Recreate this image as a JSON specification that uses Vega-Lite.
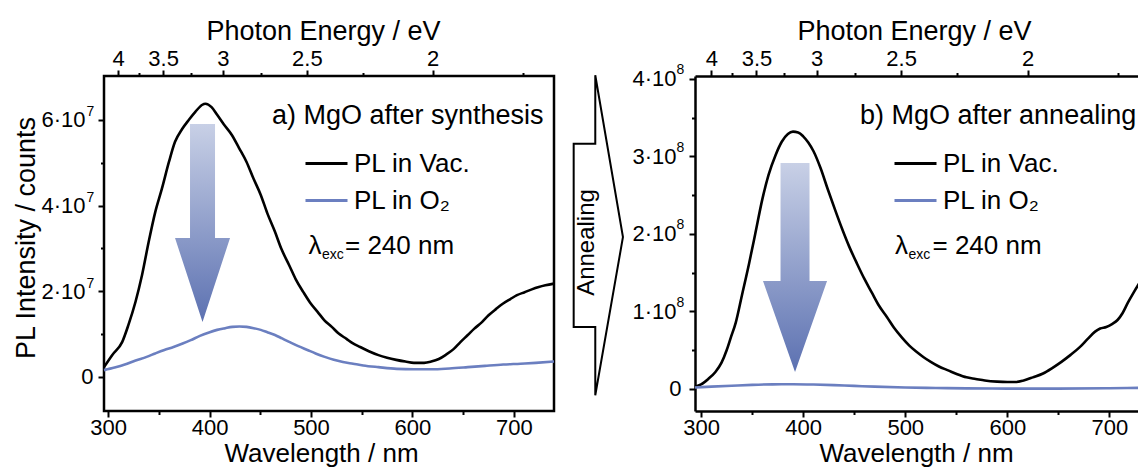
{
  "$schema": "https://vega.github.io/schema/vega-lite/v6.json",
  "padding": {"left": 10, "top": 15, "right": 0, "bottom": 0},
  "autosize": {"type": "pad"},
  "bounds": "flush",
  "spacing": 141,
  "config": {
    "font": "Liberation Sans",
    "view": {"stroke": null},
    "axis": {
      "grid": false, "labelFont": "Liberation Sans", "titleFont": "Liberation Sans",
      "labelColor": "black", "titleColor": "black", "tickColor": "black", "domainColor": "black",
      "labelFontSize": 22, "titleFontSize": 27, "titleFontWeight": "normal",
      "tickWidth": 2, "domainWidth": 2.5, "domain": false, "labelFlush": false, "labelOverlap": false
    },
    "text": {"font": "Liberation Sans", "color": "black"}
  },
  "resolve": {"scale": {"color": "independent"}},
  "datasets": {
    "spectra": [
      {"panel":"a","series":"PL in Vac.","wl":296,"I":2.3e6},{"panel":"a","series":"PL in Vac.","wl":304,"I":5.1e6},{"panel":"a","series":"PL in Vac.","wl":314,"I":8.2e6},{"panel":"a","series":"PL in Vac.","wl":320,"I":1.21e7},{"panel":"a","series":"PL in Vac.","wl":327,"I":1.75e7},{"panel":"a","series":"PL in Vac.","wl":333.5,"I":2.38e7},{"panel":"a","series":"PL in Vac.","wl":340,"I":3.15e7},{"panel":"a","series":"PL in Vac.","wl":346.5,"I":3.85e7},{"panel":"a","series":"PL in Vac.","wl":353,"I":4.39e7},{"panel":"a","series":"PL in Vac.","wl":360,"I":5.02e7},{"panel":"a","series":"PL in Vac.","wl":366,"I":5.49e7},{"panel":"a","series":"PL in Vac.","wl":373,"I":5.79e7},{"panel":"a","series":"PL in Vac.","wl":379.5,"I":6.0e7},{"panel":"a","series":"PL in Vac.","wl":386,"I":6.19e7},{"panel":"a","series":"PL in Vac.","wl":392.5,"I":6.35e7},{"panel":"a","series":"PL in Vac.","wl":396,"I":6.38e7},{"panel":"a","series":"PL in Vac.","wl":402,"I":6.3e7},{"panel":"a","series":"PL in Vac.","wl":407.5,"I":6.12e7},{"panel":"a","series":"PL in Vac.","wl":414,"I":5.9e7},{"panel":"a","series":"PL in Vac.","wl":422,"I":5.65e7},{"panel":"a","series":"PL in Vac.","wl":429,"I":5.35e7},{"panel":"a","series":"PL in Vac.","wl":436.5,"I":5.02e7},{"panel":"a","series":"PL in Vac.","wl":443,"I":4.65e7},{"panel":"a","series":"PL in Vac.","wl":450.5,"I":4.25e7},{"panel":"a","series":"PL in Vac.","wl":457,"I":3.82e7},{"panel":"a","series":"PL in Vac.","wl":464.5,"I":3.39e7},{"panel":"a","series":"PL in Vac.","wl":471,"I":2.98e7},{"panel":"a","series":"PL in Vac.","wl":478.5,"I":2.61e7},{"panel":"a","series":"PL in Vac.","wl":485,"I":2.28e7},{"panel":"a","series":"PL in Vac.","wl":492.5,"I":1.98e7},{"panel":"a","series":"PL in Vac.","wl":499,"I":1.74e7},{"panel":"a","series":"PL in Vac.","wl":506.5,"I":1.52e7},{"panel":"a","series":"PL in Vac.","wl":513,"I":1.33e7},{"panel":"a","series":"PL in Vac.","wl":520.5,"I":1.17e7},{"panel":"a","series":"PL in Vac.","wl":527,"I":1.02e7},{"panel":"a","series":"PL in Vac.","wl":535,"I":8.9e6},{"panel":"a","series":"PL in Vac.","wl":541,"I":7.9e6},{"panel":"a","series":"PL in Vac.","wl":548.5,"I":7.0e6},{"panel":"a","series":"PL in Vac.","wl":557,"I":6.0e6},{"panel":"a","series":"PL in Vac.","wl":566.5,"I":5.1e6},{"panel":"a","series":"PL in Vac.","wl":575,"I":4.5e6},{"panel":"a","series":"PL in Vac.","wl":584,"I":4.0e6},{"panel":"a","series":"PL in Vac.","wl":593,"I":3.6e6},{"panel":"a","series":"PL in Vac.","wl":601.5,"I":3.3e6},{"panel":"a","series":"PL in Vac.","wl":611.5,"I":3.3e6},{"panel":"a","series":"PL in Vac.","wl":618.5,"I":3.6e6},{"panel":"a","series":"PL in Vac.","wl":626,"I":4.2e6},{"panel":"a","series":"PL in Vac.","wl":633,"I":5.2e6},{"panel":"a","series":"PL in Vac.","wl":640.5,"I":6.5e6},{"panel":"a","series":"PL in Vac.","wl":647,"I":8.1e6},{"panel":"a","series":"PL in Vac.","wl":654.5,"I":9.8e6},{"panel":"a","series":"PL in Vac.","wl":661,"I":1.13e7},{"panel":"a","series":"PL in Vac.","wl":668.5,"I":1.28e7},{"panel":"a","series":"PL in Vac.","wl":675,"I":1.44e7},{"panel":"a","series":"PL in Vac.","wl":682.5,"I":1.59e7},{"panel":"a","series":"PL in Vac.","wl":689,"I":1.71e7},{"panel":"a","series":"PL in Vac.","wl":696.5,"I":1.82e7},{"panel":"a","series":"PL in Vac.","wl":703,"I":1.91e7},{"panel":"a","series":"PL in Vac.","wl":710.5,"I":1.98e7},{"panel":"a","series":"PL in Vac.","wl":717,"I":2.04e7},{"panel":"a","series":"PL in Vac.","wl":724.5,"I":2.10e7},{"panel":"a","series":"PL in Vac.","wl":731,"I":2.14e7},{"panel":"a","series":"PL in Vac.","wl":739.5,"I":2.18e7},
      {"panel":"a","series":"PL in O₂","wl":296,"I":1.6e6},{"panel":"a","series":"PL in O₂","wl":306.5,"I":2.2e6},{"panel":"a","series":"PL in O₂","wl":316.5,"I":2.9e6},{"panel":"a","series":"PL in O₂","wl":326.5,"I":3.8e6},{"panel":"a","series":"PL in O₂","wl":338,"I":4.7e6},{"panel":"a","series":"PL in O₂","wl":346.5,"I":5.5e6},{"panel":"a","series":"PL in O₂","wl":355.5,"I":6.3e6},{"panel":"a","series":"PL in O₂","wl":364.5,"I":7.0e6},{"panel":"a","series":"PL in O₂","wl":373.5,"I":7.8e6},{"panel":"a","series":"PL in O₂","wl":381.5,"I":8.6e6},{"panel":"a","series":"PL in O₂","wl":390.5,"I":9.6e6},{"panel":"a","series":"PL in O₂","wl":399.5,"I":1.04e7},{"panel":"a","series":"PL in O₂","wl":407.5,"I":1.10e7},{"panel":"a","series":"PL in O₂","wl":415.5,"I":1.14e7},{"panel":"a","series":"PL in O₂","wl":422.5,"I":1.17e7},{"panel":"a","series":"PL in O₂","wl":429.5,"I":1.18e7},{"panel":"a","series":"PL in O₂","wl":436.5,"I":1.17e7},{"panel":"a","series":"PL in O₂","wl":443.5,"I":1.14e7},{"panel":"a","series":"PL in O₂","wl":450.5,"I":1.10e7},{"panel":"a","series":"PL in O₂","wl":457.5,"I":1.04e7},{"panel":"a","series":"PL in O₂","wl":464.5,"I":9.8e6},{"panel":"a","series":"PL in O₂","wl":471.5,"I":9.0e6},{"panel":"a","series":"PL in O₂","wl":478.5,"I":8.2e6},{"panel":"a","series":"PL in O₂","wl":487.5,"I":7.2e6},{"panel":"a","series":"PL in O₂","wl":496.5,"I":6.3e6},{"panel":"a","series":"PL in O₂","wl":504.5,"I":5.5e6},{"panel":"a","series":"PL in O₂","wl":513.5,"I":4.7e6},{"panel":"a","series":"PL in O₂","wl":522.5,"I":4.0e6},{"panel":"a","series":"PL in O₂","wl":531.5,"I":3.5e6},{"panel":"a","series":"PL in O₂","wl":541.5,"I":3.1e6},{"panel":"a","series":"PL in O₂","wl":551.5,"I":2.7e6},{"panel":"a","series":"PL in O₂","wl":566.5,"I":2.3e6},{"panel":"a","series":"PL in O₂","wl":584.5,"I":1.9e6},{"panel":"a","series":"PL in O₂","wl":601.5,"I":1.8e6},{"panel":"a","series":"PL in O₂","wl":619.5,"I":1.8e6},{"panel":"a","series":"PL in O₂","wl":636.5,"I":2.0e6},{"panel":"a","series":"PL in O₂","wl":654.5,"I":2.3e6},{"panel":"a","series":"PL in O₂","wl":671.5,"I":2.6e6},{"panel":"a","series":"PL in O₂","wl":689.5,"I":2.9e6},{"panel":"a","series":"PL in O₂","wl":706.5,"I":3.1e6},{"panel":"a","series":"PL in O₂","wl":721.5,"I":3.3e6},{"panel":"a","series":"PL in O₂","wl":739.5,"I":3.6e6},
      {"panel":"b","series":"PL in Vac.","wl":294,"I":3e6},{"panel":"b","series":"PL in Vac.","wl":300,"I":6e6},{"panel":"b","series":"PL in Vac.","wl":307,"I":1.3e7},{"panel":"b","series":"PL in Vac.","wl":314,"I":2.2e7},{"panel":"b","series":"PL in Vac.","wl":320,"I":3.4e7},{"panel":"b","series":"PL in Vac.","wl":325,"I":5.0e7},{"panel":"b","series":"PL in Vac.","wl":329,"I":6.6e7},{"panel":"b","series":"PL in Vac.","wl":334,"I":8.6e7},{"panel":"b","series":"PL in Vac.","wl":340,"I":1.21e8},{"panel":"b","series":"PL in Vac.","wl":347,"I":1.62e8},{"panel":"b","series":"PL in Vac.","wl":353,"I":2.0e8},{"panel":"b","series":"PL in Vac.","wl":360,"I":2.45e8},{"panel":"b","series":"PL in Vac.","wl":366,"I":2.76e8},{"panel":"b","series":"PL in Vac.","wl":373,"I":3.02e8},{"panel":"b","series":"PL in Vac.","wl":379,"I":3.19e8},{"panel":"b","series":"PL in Vac.","wl":385,"I":3.29e8},{"panel":"b","series":"PL in Vac.","wl":390,"I":3.32e8},{"panel":"b","series":"PL in Vac.","wl":395,"I":3.31e8},{"panel":"b","series":"PL in Vac.","wl":400,"I":3.26e8},{"panel":"b","series":"PL in Vac.","wl":405,"I":3.18e8},{"panel":"b","series":"PL in Vac.","wl":410,"I":3.07e8},{"panel":"b","series":"PL in Vac.","wl":417,"I":2.85e8},{"panel":"b","series":"PL in Vac.","wl":424,"I":2.58e8},{"panel":"b","series":"PL in Vac.","wl":431,"I":2.32e8},{"panel":"b","series":"PL in Vac.","wl":438,"I":2.07e8},{"panel":"b","series":"PL in Vac.","wl":445,"I":1.84e8},{"panel":"b","series":"PL in Vac.","wl":453,"I":1.61e8},{"panel":"b","series":"PL in Vac.","wl":460,"I":1.42e8},{"panel":"b","series":"PL in Vac.","wl":467,"I":1.25e8},{"panel":"b","series":"PL in Vac.","wl":474,"I":1.08e8},{"panel":"b","series":"PL in Vac.","wl":482,"I":9.3e7},{"panel":"b","series":"PL in Vac.","wl":489,"I":7.9e7},{"panel":"b","series":"PL in Vac.","wl":497,"I":6.6e7},{"panel":"b","series":"PL in Vac.","wl":504,"I":5.6e7},{"panel":"b","series":"PL in Vac.","wl":511,"I":4.8e7},{"panel":"b","series":"PL in Vac.","wl":518,"I":4.1e7},{"panel":"b","series":"PL in Vac.","wl":525,"I":3.5e7},{"panel":"b","series":"PL in Vac.","wl":533,"I":2.9e7},{"panel":"b","series":"PL in Vac.","wl":542,"I":2.4e7},{"panel":"b","series":"PL in Vac.","wl":551,"I":1.9e7},{"panel":"b","series":"PL in Vac.","wl":560,"I":1.5e7},{"panel":"b","series":"PL in Vac.","wl":569,"I":1.3e7},{"panel":"b","series":"PL in Vac.","wl":578,"I":1.1e7},{"panel":"b","series":"PL in Vac.","wl":590,"I":9.5e6},{"panel":"b","series":"PL in Vac.","wl":600,"I":9e6},{"panel":"b","series":"PL in Vac.","wl":608,"I":9e6},{"panel":"b","series":"PL in Vac.","wl":616,"I":1.1e7},{"panel":"b","series":"PL in Vac.","wl":625,"I":1.5e7},{"panel":"b","series":"PL in Vac.","wl":635,"I":2.0e7},{"panel":"b","series":"PL in Vac.","wl":644,"I":2.7e7},{"panel":"b","series":"PL in Vac.","wl":653,"I":3.5e7},{"panel":"b","series":"PL in Vac.","wl":662,"I":4.4e7},{"panel":"b","series":"PL in Vac.","wl":671,"I":5.4e7},{"panel":"b","series":"PL in Vac.","wl":679,"I":6.5e7},{"panel":"b","series":"PL in Vac.","wl":686,"I":7.4e7},{"panel":"b","series":"PL in Vac.","wl":691,"I":7.8e7},{"panel":"b","series":"PL in Vac.","wl":697,"I":8.0e7},{"panel":"b","series":"PL in Vac.","wl":703,"I":8.4e7},{"panel":"b","series":"PL in Vac.","wl":708,"I":8.9e7},{"panel":"b","series":"PL in Vac.","wl":713,"I":9.8e7},{"panel":"b","series":"PL in Vac.","wl":718,"I":1.11e8},{"panel":"b","series":"PL in Vac.","wl":724,"I":1.25e8},{"panel":"b","series":"PL in Vac.","wl":730,"I":1.38e8},
      {"panel":"b","series":"PL in O₂","wl":294,"I":2e6},{"panel":"b","series":"PL in O₂","wl":310,"I":3e6},{"panel":"b","series":"PL in O₂","wl":330,"I":4.2e6},{"panel":"b","series":"PL in O₂","wl":350,"I":5.3e6},{"panel":"b","series":"PL in O₂","wl":370,"I":6e6},{"panel":"b","series":"PL in O₂","wl":390,"I":6.2e6},{"panel":"b","series":"PL in O₂","wl":410,"I":5.8e6},{"panel":"b","series":"PL in O₂","wl":430,"I":5e6},{"panel":"b","series":"PL in O₂","wl":450,"I":4e6},{"panel":"b","series":"PL in O₂","wl":470,"I":3e6},{"panel":"b","series":"PL in O₂","wl":500,"I":2e6},{"panel":"b","series":"PL in O₂","wl":530,"I":1.3e6},{"panel":"b","series":"PL in O₂","wl":560,"I":8e5},{"panel":"b","series":"PL in O₂","wl":600,"I":5e5},{"panel":"b","series":"PL in O₂","wl":650,"I":5e5},{"panel":"b","series":"PL in O₂","wl":700,"I":1e6},{"panel":"b","series":"PL in O₂","wl":730,"I":1.5e6}
    ]
  },
  "hconcat": [
    {
      "width": 450, "height": 335,
      "view": {"stroke": "black", "strokeWidth": 2.5},
      "resolve": {"axis": {"x": "independent", "y": "independent"}},
      "layer": [
        {
          "data": {"name": "spectra"},
          "transform": [{"filter": "datum.panel === 'a'"}],
          "mark": {"type": "line", "strokeWidth": 2.6, "interpolate": "monotone"},
          "encoding": {
            "x": {"field": "wl", "type": "quantitative", "scale": {"domain": [296, 739.5], "nice": false, "zero": false},
              "axis": {"orient": "bottom", "values": [300,350,400,450,500,550,600,650,700],
                "labelExpr": "datum.value % 100 === 0 ? datum.label : ''",
                "tickSize": {"condition": {"test": "datum.value % 100 === 0", "value": 6}, "value": 3.5},
                "labelPadding": 0, "title": "Wavelength / nm", "titleFontSize": 26, "titleX": 217, "titleY": 29}},
            "y": {"field": "I", "type": "quantitative", "scale": {"domain": [-7.94e6, 7.027e7], "nice": false, "zero": false},
              "axis": {"orient": "left", "values": [0,1e7,2e7,3e7,4e7,5e7,6e7],
                "labelExpr": "datum.value === 0 ? '0' : ((datum.value/1e7) % 2 === 0 ? format(datum.value/1e7, 'd') + '·10' : '')",
                "tickSize": {"condition": {"test": "(datum.value/1e7) % 2 === 0", "value": 6}, "value": 3.5},
                "labelPadding": {"condition": {"test": "datum.value === 0", "value": 5}, "value": 13},
                "title": "PL Intensity / counts", "titleX": -64, "titleY": 161.5}},
            "color": {"field": "series", "type": "nominal",
              "scale": {"domain": ["PL in Vac.", "PL in O₂"], "range": ["#000000", "#6b7fc0"]},
              "legend": {"orient": "none", "legendX": 200, "legendY": 65, "title": null, "symbolType": "stroke",
                "symbolSize": 1764, "symbolStrokeWidth": 3, "labelFontSize": 26, "labelFont": "Liberation Sans",
                "labelColor": "black", "labelOffset": 5, "rowPadding": 1, "padding": 0, "labelLimit": 400}}
          }
        },
        {
          "data": {"values": [{}]},
          "mark": {"type": "text", "text": "a) MgO after synthesis", "align": "left", "baseline": "alphabetic", "fontSize": 27},
          "encoding": {
            "x": {"datum": 461.6, "type": "quantitative",
              "axis": {"orient": "top", "values": [309.96,330.624,354.24,381.489,413.28,450.851,495.936,551.04,619.92,708.48],
                "labelExpr": "abs(2*1239.84/datum.value - round(2*1239.84/datum.value)) < 0.01 ? format(round(2*1239.84/datum.value)/2, '~g') : ''",
                "tickSize": {"condition": {"test": "abs(2*1239.84/datum.value - round(2*1239.84/datum.value)) < 0.01", "value": 6}, "value": 3.5},
                "labelPadding": 0, "title": "Photon Energy / eV", "titleX": 219, "titleY": -31}},
            "y": {"datum": 5.906e7, "type": "quantitative",
              "axis": {"orient": "left", "values": [2e7,4e7,6e7], "labelExpr": "'7'", "ticks": true, "tickSize": 0,
                "labelAlign": "left", "labelPadding": 18, "labelOffset": -8, "labelFontSize": 14, "title": null}}
          }
        },
        {
          "data": {"values": [{}]},
          "mark": {"type": "text", "text": "λ", "align": "left", "baseline": "alphabetic", "fontSize": 26},
          "encoding": {"x": {"datum": 497.5, "type": "quantitative", "axis": null}, "y": {"datum": 2.871e7, "type": "quantitative", "axis": null}}
        },
        {
          "data": {"values": [{}]},
          "mark": {"type": "text", "text": "exc", "align": "left", "baseline": "alphabetic", "fontSize": 14},
          "encoding": {"x": {"datum": 510.9, "type": "quantitative", "axis": null}, "y": {"datum": 2.755e7, "type": "quantitative", "axis": null}}
        },
        {
          "data": {"values": [{}]},
          "mark": {"type": "text", "text": "= 240 nm", "align": "left", "baseline": "alphabetic", "fontSize": 26},
          "encoding": {"x": {"datum": 533.5, "type": "quantitative", "axis": null}, "y": {"datum": 2.871e7, "type": "quantitative", "axis": null}}
        },
        {
          "data": {"values": [{}]},
          "mark": {"type": "point", "shape": "M-0.125,-0.99L0.125,-0.99L0.125,0.15L0.275,0.15L0,0.99L-0.275,0.15L-0.125,0.15Z",
            "size": 40000, "filled": true, "opacity": 1, "strokeWidth": 0,
            "fill": {"gradient": "linear", "x1": 0, "y1": 0, "x2": 0, "y2": 1, "stops": [{"offset": 0, "color": "#c8d0e6"}, {"offset": 1, "color": "#5c71b1"}]}},
          "encoding": {"x": {"datum": 393.1, "type": "quantitative", "axis": null}, "y": {"datum": 3.595e7, "type": "quantitative", "axis": null}}
        }
      ]
    },
    {
      "width": 445, "height": 335,
      "resolve": {"axis": {"x": "independent", "y": "independent"}},
      "layer": [
        {
          "data": {"name": "spectra"},
          "transform": [{"filter": "datum.panel === 'b'"}],
          "mark": {"type": "line", "strokeWidth": 2.6, "interpolate": "monotone"},
          "encoding": {
            "x": {"field": "wl", "type": "quantitative", "scale": {"domain": [294, 730], "nice": false, "zero": false},
              "axis": {"orient": "bottom", "values": [300,350,400,450,500,550,600,650,700], "domain": true,
                "labelExpr": "datum.value % 100 === 0 ? datum.label : ''",
                "tickSize": {"condition": {"test": "datum.value % 100 === 0", "value": 6}, "value": 3.5},
                "labelPadding": 0, "title": "Wavelength / nm", "titleFontSize": 26, "titleX": 221, "titleY": 29}},
            "y": {"field": "I", "type": "quantitative", "scale": {"domain": [-2.84e7, 4.038e8], "nice": false, "zero": false},
              "axis": {"orient": "left", "values": [0,5e7,1e8,1.5e8,2e8,2.5e8,3e8,3.5e8,4e8], "domain": true,
                "labelExpr": "datum.value === 0 ? '0' : (datum.value % 1e8 === 0 ? format(datum.value/1e8, 'd') + '·10' : '')",
                "tickSize": {"condition": {"test": "datum.value % 1e8 === 0", "value": 6}, "value": 3.5},
                "labelPadding": {"condition": {"test": "datum.value === 0", "value": 8}, "value": 13},
                "title": null}},
            "color": {"field": "series", "type": "nominal",
              "scale": {"domain": ["PL in Vac.", "PL in O₂"], "range": ["#000000", "#6b7fc0"]},
              "legend": {"orient": "none", "legendX": 198, "legendY": 65, "title": null, "symbolType": "stroke",
                "symbolSize": 1764, "symbolStrokeWidth": 3, "labelFontSize": 26, "labelFont": "Liberation Sans",
                "labelColor": "black", "labelOffset": 5, "rowPadding": 1, "padding": 0, "labelLimit": 400}}
          }
        },
        {
          "data": {"values": [{}]},
          "mark": {"type": "text", "text": "b) MgO after annealing", "align": "left", "baseline": "alphabetic", "fontSize": 27},
          "encoding": {
            "x": {"datum": 455.7, "type": "quantitative",
              "axis": {"orient": "top", "values": [309.96,330.624,354.24,381.489,413.28,450.851,495.936,551.04,619.92,708.48], "domain": true,
                "labelExpr": "abs(2*1239.84/datum.value - round(2*1239.84/datum.value)) < 0.01 ? format(round(2*1239.84/datum.value)/2, '~g') : ''",
                "tickSize": {"condition": {"test": "abs(2*1239.84/datum.value - round(2*1239.84/datum.value)) < 0.01", "value": 6}, "value": 3.5},
                "labelPadding": 0, "title": "Photon Energy / eV", "titleX": 219, "titleY": -31}},
            "y": {"datum": 3.419e8, "type": "quantitative",
              "axis": {"orient": "left", "values": [1e8,2e8,3e8,4e8], "labelExpr": "'8'", "ticks": true, "tickSize": 0,
                "labelAlign": "left", "labelPadding": 19, "labelOffset": -9, "labelFontSize": 14, "title": null}}
          }
        },
        {
          "data": {"values": [{}]},
          "mark": {"type": "text", "text": "λ", "align": "left", "baseline": "alphabetic", "fontSize": 26},
          "encoding": {"x": {"datum": 490.0, "type": "quantitative", "axis": null}, "y": {"datum": 1.742e8, "type": "quantitative", "axis": null}}
        },
        {
          "data": {"values": [{}]},
          "mark": {"type": "text", "text": "exc", "align": "left", "baseline": "alphabetic", "fontSize": 14},
          "encoding": {"x": {"datum": 503.2, "type": "quantitative", "axis": null}, "y": {"datum": 1.671e8, "type": "quantitative", "axis": null}}
        },
        {
          "data": {"values": [{}]},
          "mark": {"type": "text", "text": "= 240 nm", "align": "left", "baseline": "alphabetic", "fontSize": 26},
          "encoding": {"x": {"datum": 526.7, "type": "quantitative", "axis": null}, "y": {"datum": 1.742e8, "type": "quantitative", "axis": null}}
        },
        {
          "data": {"values": [{}]},
          "mark": {"type": "point", "shape": "M-0.138,-0.995L0.138,-0.995L0.138,0.129L0.305,0.129L0,0.995L-0.305,0.129L-0.138,0.129Z",
            "size": 44100, "filled": true, "opacity": 1, "strokeWidth": 0,
            "fill": {"gradient": "linear", "x1": 0, "y1": 0, "x2": 0, "y2": 1, "stops": [{"offset": 0, "color": "#c8d0e6"}, {"offset": 1, "color": "#5c71b1"}]}},
          "encoding": {"x": {"datum": 392.0, "type": "quantitative", "axis": null}, "y": {"datum": 1.567e8, "type": "quantitative", "axis": null}}
        },
        {
          "data": {"values": [{}]},
          "mark": {"type": "point", "shape": "M-0.158,-0.5725L-0.023,-0.5725L-0.023,-1L0.15,0.011L-0.023,1L-0.023,0.573L-0.158,0.573Z",
            "size": 102400, "filled": true, "opacity": 1, "fill": "white", "stroke": "black", "strokeWidth": 2, "strokeJoin": "miter"},
          "encoding": {"x": {"datum": 199.9, "type": "quantitative", "axis": null}, "y": {"datum": 1.983e8, "type": "quantitative", "axis": null}}
        },
        {
          "data": {"values": [{}]},
          "mark": {"type": "text", "text": "Annealing", "angle": 270, "align": "center", "baseline": "middle", "fontSize": 24},
          "encoding": {"x": {"datum": 188.2, "type": "quantitative", "axis": null}, "y": {"datum": 1.89e8, "type": "quantitative", "axis": null}}
        }
      ]
    }
  ]
}
